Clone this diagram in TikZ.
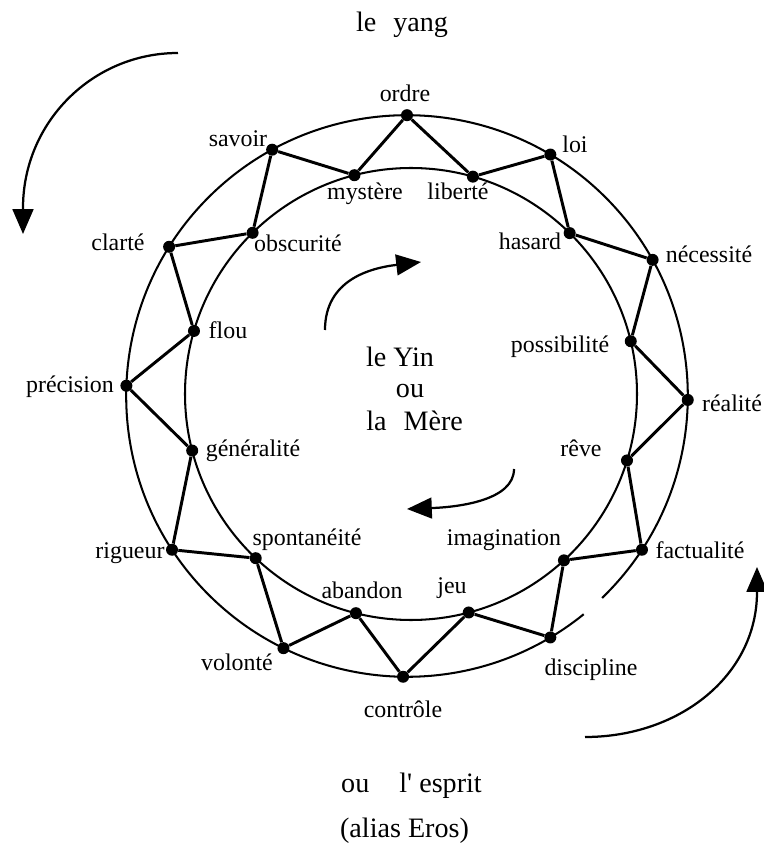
\documentclass[tikz,border=0pt]{standalone}
\usepackage{fontspec}
\setmainfont{Liberation Serif}
\usetikzlibrary{arrows.meta}

\begin{document}
\begin{tikzpicture}[dot/.style = {circle, fill, inner sep=0pt, minimum size=0.3cm},
                    lbl/.style = {anchor=base, inner sep=0pt, font=\fontsize{17}{20}\selectfont},
                    big/.style = {anchor=base, inner sep=0pt, font=\fontsize{20}{24}\selectfont},
                    ring/.style = {line width=1.45pt},
                    zig/.style = {line width=2.1pt},
                    turn/.style = {line width=1.6pt, -{Triangle[length=0.62cm, width=0.52cm]}}]
                \useasboundingbox (-10.175,-11.35) rectangle (8.9,9.9);

                % Cercles
                \draw[ring] (-46:7.02) arc[start angle=-46, end angle=309, radius=7.02];
                \draw[ring] (0.1,0.05) circle[radius=5.65];

                % Points du grand cercle
                \node[dot] (ordre) at (90:7.02) {};
                \node[dot] (loi) at (59.3:7.02) {};
                \node[dot] (necessite) at (29:7.02) {};
                \node[dot] (realite) at (-0.8:7.02) {};
                \node[dot] (factualite) at (-33.2:7.02) {};
                \node[dot] (discipline) at (-59.3:7.02) {};
                \node[dot] (controle) at (-90.8:7.02) {};
                \node[dot] (volonte) at (243.9:7.02) {};
                \node[dot] (rigueur) at (213.2:7.02) {};
                \node[dot] (precision) at (177.9:7.02) {};
                \node[dot] (clarte) at (147.9:7.02) {};
                \node[dot] (savoir) at (118.7:7.02) {};

                % Points du petit cercle
                \begin{scope}[shift={(0.1,0.05)}]
                \node[dot] (mystere) at (104.5:5.65) {};
                \node[dot] (liberte) at (74.1:5.65) {};
                \node[dot] (hasard) at (45.4:5.65) {};
                \node[dot] (possibilite) at (13.5:5.65) {};
                \node[dot] (reve) at (-17.1:5.65) {};
                \node[dot] (imagination) at (-47.4:5.65) {};
                \node[dot] (jeu) at (-75.2:5.65) {};
                \node[dot] (abandon) at (255.9:5.65) {};
                \node[dot] (spontaneite) at (226.6:5.65) {};
                \node[dot] (generalite) at (194.5:5.65) {};
                \node[dot] (flou) at (163.8:5.65) {};
                \node[dot] (obscurite) at (134.5:5.65) {};
                \end{scope}

                % Liaisons
                \draw[zig] (ordre) -- (liberte) -- (loi) -- (hasard) -- (necessite) -- (possibilite) -- (realite) -- (reve);
                \draw[zig] (reve) -- (factualite) -- (imagination) -- (discipline) -- (jeu) -- (controle) -- (abandon) -- (volonte);
                \draw[zig] (volonte) -- (spontaneite) -- (rigueur) -- (generalite) -- (precision) -- (flou) -- (clarte) -- (obscurite);
                \draw[zig] (obscurite) -- (savoir) -- (mystere) -- (ordre);

                % Étiquettes
                \node[lbl] (l-ordre) at (-0.05,7.35) {ordre};
                \node[lbl] (l-loi) at (4.2,6.075) {loi};
                \node[lbl] (l-necessite) at (7.55,3.325) {nécessité};
                \node[lbl] (l-realite) at (8.125,-0.4) {réalité};
                \node[lbl] (l-factualite) at (7.325,-4.05) {factualité};
                \node[lbl] (l-discipline) at (4.6,-6.975) {discipline};
                \node[lbl] (l-controle) at (-0.1,-8.025) {contrôle};
                \node[lbl] (l-volonte) at (-4.25,-6.85) {volonté};
                \node[lbl] (l-rigueur) at (-6.925,-4.05) {rigueur};
                \node[lbl] (l-precision) at (-8.425,0.075) {précision};
                \node[lbl] (l-clarte) at (-7.225,3.625) {clarté};
                \node[lbl] (l-savoir) at (-4.225,6.225) {savoir};
                \node[lbl] (l-mystere) at (-1.05,4.9) {mystère};
                \node[lbl] (l-liberte) at (1.275,4.9) {liberté};
                \node[lbl] (l-hasard) at (3.075,3.65) {hasard};
                \node[lbl] (l-possibilite) at (3.825,1.075) {possibilité};
                \node[lbl] (l-reve) at (4.35,-1.525) {rêve};
                \node[lbl] (l-imagination) at (2.425,-3.725) {imagination};
                \node[lbl] (l-jeu) at (1.125,-4.925) {jeu};
                \node[lbl] (l-abandon) at (-1.125,-5.05) {abandon};
                \node[lbl] (l-spontaneite) at (-2.5,-3.725) {spontanéité};
                \node[lbl] (l-generalite) at (-3.85,-1.525) {généralité};
                \node[lbl] (l-flou) at (-4.475,1.425) {flou};
                \node[lbl] (l-obscurite) at (-2.725,3.6) {obscurité};

                % Textes
                \node[big] (yang) at (-0.125,9.1) {le\hspace{0.6em}yang};
                \node[big] (yin) at (-0.175,0.725) {le Yin};
                \node[big] (ou) at (0.075,-0.05) {ou};
                \node[big] (mere) at (0.19,-0.875) {la\hspace{0.6em}Mère};
                \node[big] (esprit) at (0.1125,-9.9) {ou\hspace{1.07em}l\textquotesingle\ esprit};
                \node[big] (eros) at (-0.0625,-11.025) {(alias Eros)};

                % Flèches
                \coordinate (yangdep) at (-5.725,8.575);
                \coordinate (espritdep) at (4.45,-8.525);
                \coordinate (yindep) at (-2.05,1.65);
                \coordinate (meredep) at (2.675,-1.825);
                \draw[turn] (yangdep) arc[start angle=90, end angle=180, radius=3.875] -- ++(0,-0.65);
                \draw[turn] (espritdep) .. controls (6.825,-8.525) and (8.75,-6.975) .. (8.75,-4.9) -- ++(0,0.625);
                \draw[turn] (yindep) .. controls (-2.05,2.9) and (-0.925,3.2) .. (0.35,3.35);
                \draw[turn] (meredep) .. controls (2.675,-2.6) and (1.325,-2.775) .. (0,-2.825);
                \end{tikzpicture}
\end{document}
